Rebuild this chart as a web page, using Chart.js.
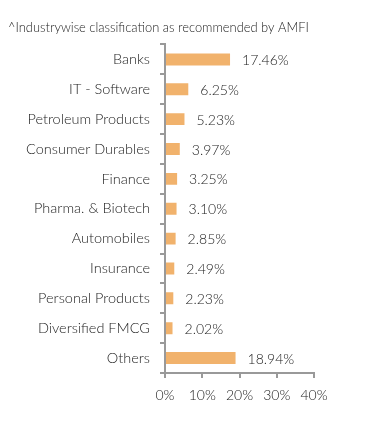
<!DOCTYPE html>
<html>
<head>
<meta charset="utf-8">
<script src="https://cdn.jsdelivr.net/npm/chart.js@4"></script>
<style>
  html, body { margin: 0; padding: 0; background: #fff; }
  #wrap { width: 391px; height: 426px; }
</style>
</head>
<body>
<div id="wrap"><canvas id="myChart" width="391" height="426"></canvas></div>
<script>
    let sectors = ['Banks', 'IT - Software', 'Petroleum Products', 'Consumer Durables', 'Finance',
        'Pharma. & Biotech', 'Automobiles', 'Insurance', 'Personal Products', 'Diversified FMCG', 'Others'];
    let weights = [17.46, 6.25, 5.23, 3.97, 3.25, 3.10, 2.85, 2.49, 2.23, 2.02, 18.94];
    let titleText = '^Industrywise classification as recommended by AMFI';

    // value labels drawn just past the end of each bar
    let valueLabels = {
        id: 'valueLabels',
        afterDatasetsDraw(chart) {
            let ctx = chart.ctx;
            let meta = chart.getDatasetMeta(0);
            ctx.save();
            ctx.font = '300 14px Lato';
            ctx.fillStyle = '#222';
            ctx.textAlign = 'left';
            ctx.textBaseline = 'middle';
            meta.data.forEach((bar, i) => {
                ctx.fillText(weights[i].toFixed(2) + '%', bar.x + 12, bar.y + 1);
            });
            ctx.restore();
        }
    };

    let ctx = document.getElementById('myChart').getContext('2d');
    let myChart = new Chart(ctx, {
        type: 'bar',
        data: {
            labels: sectors,
            datasets: [{
                data: weights,
                backgroundColor: '#F1B26C',
                borderWidth: 0,
                barPercentage: 0.4,
                categoryPercentage: 1
            }]
        },
        options: {
            indexAxis: 'y',
            responsive: false,
            animation: false,
            layout: { padding: { left: 8, right: 77, top: 14, bottom: 20 } },
            plugins: {
                legend: { display: false },
                tooltip: { enabled: false },
                title: {
                    display: true,
                    text: titleText,
                    align: 'start',
                    color: '#222',
                    font: { family: 'Lato', size: 12.9, weight: 300 },
                    padding: { top: 6, bottom: 9 }
                }
            },
            scales: {
                x: {
                    min: 0,
                    max: 40,
                    ticks: {
                        stepSize: 10,
                        color: '#222',
                        font: { family: 'Lato', size: 14, weight: 300 },
                        padding: 9,
                        callback: v => v + '%'
                    },
                    grid: { drawOnChartArea: false, drawTicks: true, tickLength: 5, color: '#999', lineWidth: 2 },
                    border: { color: '#999', width: 2 },
                    afterFit: scale => { scale.height = 33; }
                },
                y: {
                    ticks: {
                        color: '#222',
                        font: { family: 'Lato', size: 14.5, weight: 300 },
                        padding: 10
                    },
                    grid: { drawOnChartArea: false, drawTicks: true, tickLength: 5, color: '#999', lineWidth: 2 },
                    border: { color: '#999', width: 2 },
                    afterFit: scale => { scale.width = 157; }
                }
            }
        },
        plugins: [valueLabels]
    });
</script>
</body>
</html>
